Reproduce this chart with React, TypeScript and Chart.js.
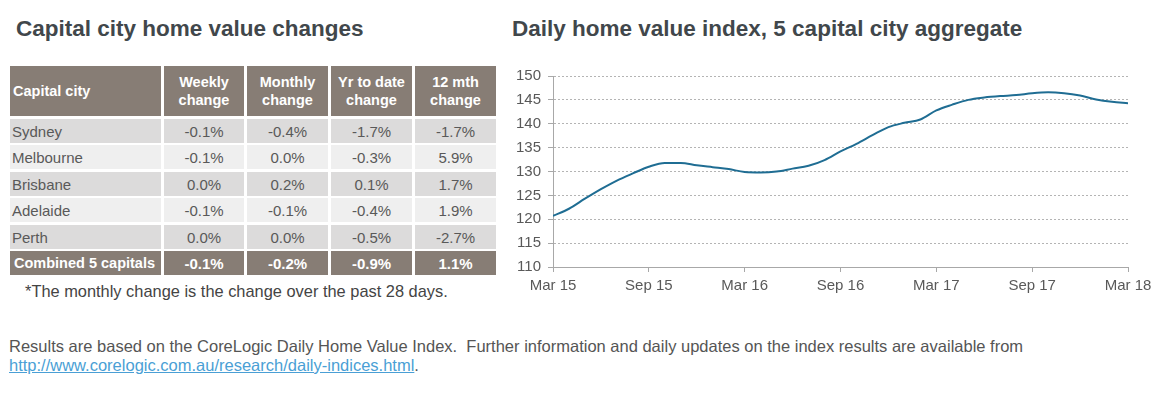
import React, { useEffect, useRef } from "react";
import { Chart, registerables } from "chart.js";

Chart.register(...registerables);

// ---- Table data ----
const cities = ["Sydney", "Melbourne", "Brisbane", "Adelaide", "Perth"];
const weeklyChange = ["-0.1%", "-0.1%", "0.0%", "-0.1%", "0.0%"];
const monthlyChange = ["-0.4%", "0.0%", "0.2%", "-0.1%", "0.0%"];
const ytdChange = ["-1.7%", "-0.3%", "0.1%", "-0.4%", "-0.5%"];
const yearChange = ["-1.7%", "5.9%", "1.7%", "1.9%", "-2.7%"];
const combinedLabel = "Combined 5 capitals";
const combinedValues = ["-0.1%", "-0.2%", "-0.9%", "1.1%"];
const headers = ["Capital city", "Weekly|change", "Monthly|change", "Yr to date|change", "12 mth|change"];

// ---- Chart data (monthly, Mar 15 .. Mar 18) ----
const monthIndex = Array.from({ length: 37 }, (_, i) => i);
const indexValues = [
  120.7, 122.2, 124.3, 126.3, 128.1, 129.6, 131.0, 131.8, 131.8, 131.3,
  130.9, 130.5, 129.9, 129.8, 130.0, 130.6, 131.2, 132.4, 134.2, 135.8,
  137.6, 139.3, 140.2, 140.9, 142.8, 144.0, 145.0, 145.5, 145.8, 146.0,
  146.4, 146.6, 146.4, 145.9, 145.1, 144.6, 144.3,
];
const xTickLabels = ["Mar 15", "Sep 15", "Mar 16", "Sep 16", "Mar 17", "Sep 17", "Mar 18"];

const FONT = "'Liberation Sans', Arial, sans-serif";
const HEADER_BG = "#877d75";
const ROW_DARK = "#dcdbdb";
const ROW_LIGHT = "#efefef";
const TEXT_GREY = "#595959";

function LineChart() {
  const ref = useRef<HTMLCanvasElement>(null);
  useEffect(() => {
    if (!ref.current) return;
    const chart = new Chart(ref.current, {
      type: "line",
      data: {
        datasets: [
          {
            data: monthIndex.map((m, i) => ({ x: m, y: indexValues[i] })),
            borderColor: "#1f6d93",
            borderWidth: 2,
            pointRadius: 0,
            tension: 0.4,
            cubicInterpolationMode: "monotone",
          },
        ],
      },
      options: {
        animation: false,
        responsive: false,
        maintainAspectRatio: false,
        layout: { padding: { top: 16, right: 32, left: 0, bottom: 0 } },
        plugins: { legend: { display: false }, tooltip: { enabled: false } },
        scales: {
          x: {
            type: "linear",
            min: 0,
            max: 36,
            afterFit: (s: any) => { s.height = 33; },
            ticks: {
              stepSize: 6,
              autoSkip: false,
              maxRotation: 0,
              padding: 5,
              color: TEXT_GREY,
              font: { family: FONT, size: 15 },
              callback: (v: any) => xTickLabels[Math.round(Number(v) / 6)] ?? "",
            },
            grid: { drawOnChartArea: false, drawTicks: true, tickLength: 5, color: "#a8a8a8" },
            border: { color: "#a8a8a8", width: 1 },
          },
          y: {
            min: 110,
            max: 150,
            afterFit: (s: any) => { s.width = 53; },
            ticks: {
              stepSize: 5,
              padding: 7,
              color: TEXT_GREY,
              font: { family: FONT, size: 15 },
            },
            grid: { color: "#b4b4b4", tickLength: 5, tickColor: "#a8a8a8", tickBorderDash: [] },
            border: { color: "#a8a8a8", width: 1, dash: [2, 2] },
          },
        },
      },
    } as any);
    return () => chart.destroy();
  }, []);
  return <canvas ref={ref} width={660} height={240} style={{ position: "absolute", left: 500, top: 60, width: 660, height: 240 }} />;
}

const colLefts = [10, 164, 247, 331, 415];
const colWidths = [151, 80, 81, 81, 81];

function cell(key: string, left: number, top: number, width: number, height: number, bg: string, content: React.ReactNode, style: React.CSSProperties) {
  return (
    <div key={key} style={{ position: "absolute", left, top, width, height, background: bg, display: "flex", alignItems: "center", boxSizing: "border-box", ...style }}>
      {content}
    </div>
  );
}

export default function App() {
  const rowsData = cities.map((c, i) => [c, weeklyChange[i], monthlyChange[i], ytdChange[i], yearChange[i]]);
  const cells: React.ReactNode[] = [];
  headers.forEach((h, j) => {
    const parts = h.split("|");
    cells.push(
      cell(`h${j}`, colLefts[j], 66, colWidths[j], 50, HEADER_BG,
        <div style={{ width: "100%", textAlign: j === 0 ? "left" : "center", lineHeight: "18px" }}>
          {parts.map((p, k) => <div key={k}>{p}</div>)}
        </div>,
        { color: "#ffffff", fontWeight: 700, fontSize: 14.5, paddingLeft: j === 0 ? 3 : 0 })
    );
  });
  rowsData.forEach((r, i) => {
    const top = Math.round(119 + i * 26.4);
    r.forEach((v, j) => {
      cells.push(
        cell(`r${i}c${j}`, colLefts[j], top, colWidths[j], 24, i % 2 === 0 ? ROW_DARK : ROW_LIGHT,
          <div style={{ width: "100%", textAlign: j === 0 ? "left" : "center" }}>{v}</div>,
          { color: TEXT_GREY, fontSize: 15, paddingLeft: j === 0 ? 2 : 0 })
      );
    });
  });
  const ctop = Math.round(119 + 5 * 26.4);
  [combinedLabel, ...combinedValues].forEach((v, j) => {
    cells.push(
      cell(`c${j}`, colLefts[j], ctop, colWidths[j], 24, HEADER_BG,
        <div style={{ width: "100%", textAlign: j === 0 ? "left" : "center" }}>{v}</div>,
        { color: "#ffffff", fontWeight: 700, fontSize: j === 0 ? 14.5 : 15, paddingLeft: j === 0 ? 4 : 0 })
    );
  });

  return (
    <div style={{ position: "absolute", left: 0, top: 0, width: 1160, height: 394, background: "#ffffff", fontFamily: FONT, overflow: "hidden" }}>
      <div style={{ position: "absolute", left: 16, top: 16, fontSize: 22.5, fontWeight: 700, color: "#41474b", whiteSpace: "nowrap" }}>
        Capital city home value changes
      </div>
      <div style={{ position: "absolute", left: 512, top: 16, fontSize: 22.5, fontWeight: 700, color: "#41474b", whiteSpace: "nowrap" }}>
        Daily home value index, 5 capital city aggregate
      </div>
      {cells}
      <div style={{ position: "absolute", left: 25, top: 282, fontSize: 16.4, color: "#444444", whiteSpace: "nowrap" }}>
        *The monthly change is the change over the past 28 days.
      </div>
      <div style={{ position: "absolute", left: 9, top: 336.5, fontSize: 16.5, color: "#555555", whiteSpace: "nowrap", lineHeight: "19px" }}>
        <div>Results are based on the CoreLogic Daily Home Value Index.&nbsp; Further information and daily updates on the index results are available from</div>
        <div>
          <span style={{ color: "#4a9fd5", textDecoration: "underline" }}>http://www.corelogic.com.au/research/daily-indices.html</span>.
        </div>
      </div>
      <LineChart />
    </div>
  );
}
